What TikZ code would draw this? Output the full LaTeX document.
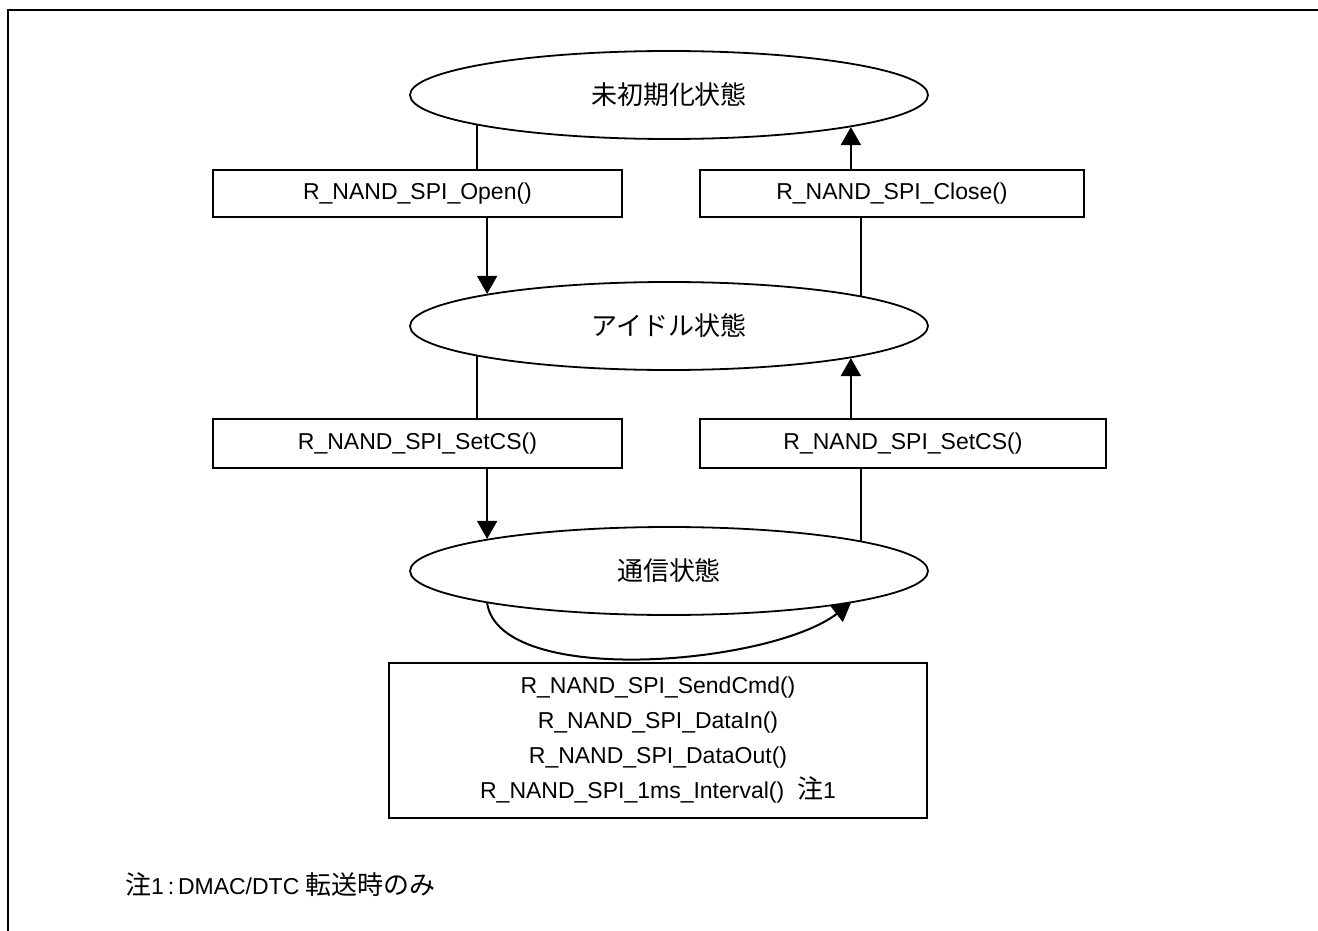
\documentclass[tikz,border=0pt]{standalone}
\usepackage{fontspec}
\setmainfont{Liberation Sans}
\newfontfamily\jp[Scale=1.13]{Noto Sans CJK JP}
\usetikzlibrary{shapes.geometric,arrows.meta}
\begin{document}
\begin{tikzpicture}[x=1pt,y=-1pt,
  state/.style={ellipse,draw,line width=1.8pt,minimum width=518pt,minimum height=88pt,inner sep=0pt,font=\fontsize{23}{27}\selectfont\jp},
  fbox/.style={draw,line width=2pt,inner sep=0pt,font=\fontsize{23}{27}\selectfont},
  conn/.style={line width=2pt},
  arr/.style={conn,-{Triangle[width=20pt,length=18pt]}}]
\useasboundingbox (0,0) rectangle (1318,931);
\fill[white] (0,0) rectangle (1318,931);
\draw[line width=2.4pt] (8,931) -- (8,10) -- (1318,10);

\node[state] (e1) at (669,95) {未初期化状態};
\node[state] (e2) at (669,326) {アイドル状態};
\node[state] (e3) at (669,571) {通信状態};

\node[fbox,minimum width=409pt,minimum height=47pt] (open) at (417.5,193.5) {R\_NAND\_SPI\_Open()};
\node[fbox,minimum width=384pt,minimum height=47pt] (close) at (892,193.5) {R\_NAND\_SPI\_Close()};
\node[fbox,minimum width=409pt,minimum height=49pt] (csl) at (417.5,443.5) {R\_NAND\_SPI\_SetCS()};
\node[fbox,minimum width=406pt,minimum height=49pt] (csr) at (903,443.5) {R\_NAND\_SPI\_SetCS()};
\node[fbox,minimum width=538pt,minimum height=155pt,align=center,font=\fontsize{23}{35}\selectfont] (api) at (658,740.5)
  {R\_NAND\_SPI\_SendCmd()\\R\_NAND\_SPI\_DataIn()\\R\_NAND\_SPI\_DataOut()\\R\_NAND\_SPI\_1ms\_Interval()\ \ {\jp 注}1};

\node[anchor=west,inner sep=0pt,font=\fontsize{23}{27}\selectfont] (note) at (125,885) {{\jp 注}1\,:\,DMAC/DTC {\jp 転送時のみ}};

\draw[conn] (e1.189.76) -- (e1.189.76 |- open.north);
\draw[arr] (open.south -| e2.170.24) -- (e2.170.24);
\draw[conn] (e2.189.76) -- (e2.189.76 |- csl.north);
\draw[arr] (csl.south -| e3.170.24) -- (e3.170.24);
\draw[conn] (e2.9.76) -- (e2.9.76 |- close.south);
\draw[arr] (close.north -| e1.350.24) -- (e1.350.24);
\draw[conn] (e3.9.76) -- (e3.9.76 |- csr.south);
\draw[arr] (csr.north -| e2.350.24) -- (e2.350.24);
\draw[arr] (e3.190.07) .. controls (500,688) and (770,665) .. (e3.350.5);
\end{tikzpicture}
\end{document}
